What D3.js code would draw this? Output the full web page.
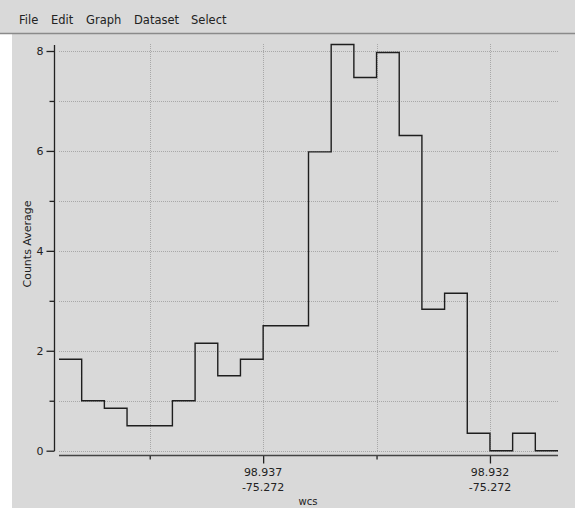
<!DOCTYPE html>
<html>
<head>
<meta charset="utf-8">
<script src="https://cdn.jsdelivr.net/npm/d3@7"></script>
<style>
html,body{margin:0;padding:0;background:#ffffff;overflow:hidden;}
svg{display:block;}
</style>
</head>
<body>
<svg id="chart" width="575" height="508"></svg>
<script>
// ---- data ----
const menuItems = ["File", "Edit", "Graph", "Dataset", "Select"];
const binEdges = [98.9415, 98.9410, 98.9405, 98.9400, 98.9395, 98.9390, 98.9385, 98.9380,
                  98.9375, 98.9370, 98.9365, 98.9360, 98.9355, 98.9350, 98.9345, 98.9340,
                  98.9335, 98.9330, 98.9325, 98.9320, 98.9315, 98.9310, 98.9305];
const counts = [1.83, 1.0, 0.85, 0.5, 0.5, 1.0, 2.15, 1.5, 1.83, 2.5, 2.5, 5.98,
                8.13, 7.47, 7.97, 6.31, 2.83, 3.15, 0.35, 0, 0.35, 0];
const xMajorTicks = [98.937, 98.932];
const xMajorLabels = [["98.937", "-75.272"], ["98.932", "-75.272"]];
const xMinorTicks = [98.9395, 98.9345];
const yMajorTicks = [0, 2, 4, 6, 8];
const yMinorTicks = [1, 3, 5, 7];
const yGridTicks = [0, 1, 2, 3, 4, 5, 6, 7, 8];
const xTitle = "wcs";
const yTitle = "Counts Average";

// ---- drawing ----
const svg = d3.select("#chart");
const font = "'DejaVu Sans', sans-serif";
const bg = "#d9d9d9";

svg.append("rect").attr("x", 12).attr("y", 0).attr("width", 563).attr("height", 508).attr("fill", bg);
svg.append("rect").attr("x", 0).attr("y", 0).attr("width", 575).attr("height", 33).attr("fill", bg);
svg.append("line").attr("x1", 0).attr("x2", 575).attr("y1", 33.5).attr("y2", 33.5)
  .attr("stroke", "#8a8a8a").attr("stroke-width", 1.5);

// menu
const menuX = [19, 51, 86, 134, 191];
svg.append("g").selectAll("text").data(menuItems).join("text")
  .attr("x", (d, i) => menuX[i]).attr("y", 24)
  .attr("font-family", font).attr("font-size", 11.5).attr("fill", "#222")
  .text(d => d);

const x = d3.scaleLinear().domain([binEdges[0], binEdges[binEdges.length - 1]]).range([59, 558]);
const y = d3.scaleLinear().domain([0, 8]).range([450.7, 51]);

const grid = svg.append("g").attr("stroke", "#a8a8a8").attr("stroke-width", 1).attr("stroke-dasharray", "1,1");
grid.selectAll("line.h").data(yGridTicks).join("line").attr("class", "h")
  .attr("x1", 59).attr("x2", 558)
  .attr("y1", d => Math.round(y(d)) + 0.5).attr("y2", d => Math.round(y(d)) + 0.5);
grid.selectAll("line.v").data(xMajorTicks.concat(xMinorTicks)).join("line").attr("class", "v")
  .attr("x1", d => Math.round(x(d)) + 0.5).attr("x2", d => Math.round(x(d)) + 0.5)
  .attr("y1", 44).attr("y2", 451);

// y axis
const yAxisMajor = d3.axisLeft(y).tickValues(yMajorTicks).tickSize(8).tickPadding(3).tickFormat(d3.format("d"));
const yAxisMinor = d3.axisLeft(y).tickValues(yMinorTicks).tickSize(5).tickFormat("");
const gy = svg.append("g").attr("transform", "translate(54.5,0)");
gy.call(yAxisMajor);
gy.append("g").call(yAxisMinor);
gy.selectAll(".domain").remove();
gy.append("line").attr("x1", 0).attr("x2", 0).attr("y1", 45).attr("y2", 451).attr("stroke", "#222").attr("stroke-width", 1.3);
gy.selectAll(".tick line").attr("stroke", "#222").attr("stroke-width", 1.3);
gy.selectAll(".tick text").attr("font-family", font).attr("font-size", 11).attr("fill", "#222");

// x axis
const xAxisMajor = d3.axisBottom(x).tickValues(xMajorTicks).tickSize(8).tickFormat("");
const xAxisMinor = d3.axisBottom(x).tickValues(xMinorTicks).tickSize(4).tickFormat("");
const gx = svg.append("g").attr("transform", "translate(0,455.5)");
gx.call(xAxisMajor);
gx.append("g").call(xAxisMinor);
gx.selectAll(".domain").remove();
gx.append("line").attr("x1", 59).attr("x2", 558).attr("y1", 0).attr("y2", 0).attr("stroke", "#444").attr("stroke-width", 1.5);
gx.selectAll(".tick line").attr("stroke", "#222").attr("stroke-width", 1.3);

const lbl = svg.append("g").selectAll("text").data(xMajorTicks).join("text")
  .attr("x", d => x(d)).attr("text-anchor", "middle")
  .attr("font-family", font).attr("font-size", 11).attr("fill", "#222");
lbl.selectAll("tspan").data((d, i) => xMajorLabels[i]).join("tspan")
  .attr("x", function () { return d3.select(this.parentNode).attr("x"); })
  .attr("y", (d, i) => i === 0 ? 476 : 491)
  .text(d => d);

svg.append("text").attr("x", 308).attr("y", 505).attr("text-anchor", "middle")
  .attr("font-family", font).attr("font-size", 10).attr("fill", "#222").text(xTitle);
svg.append("text").attr("transform", "translate(31,244) rotate(-90)").attr("text-anchor", "middle")
  .attr("font-family", font).attr("font-size", 11).attr("fill", "#222").text(yTitle);

// histogram step line
const pts = counts.map((c, i) => [binEdges[i], c]);
pts.push([binEdges[binEdges.length - 1], counts[counts.length - 1]]);
const line = d3.line().x(d => x(d[0])).y(d => y(d[1])).curve(d3.curveStepAfter);
svg.append("path").datum(pts).attr("d", line)
  .attr("fill", "none").attr("stroke", "#1e1e1e").attr("stroke-width", 1.4);
</script>
</body>
</html>
